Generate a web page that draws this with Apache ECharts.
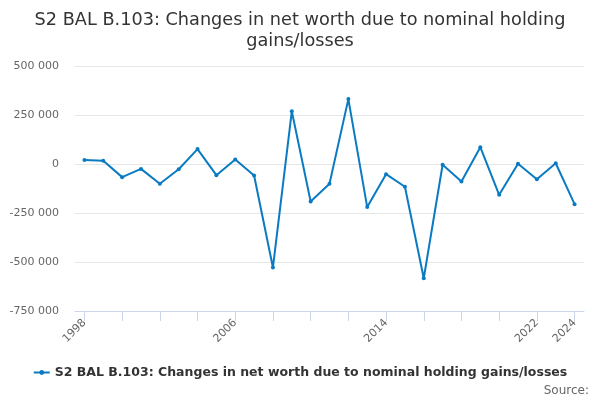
<!DOCTYPE html>
<html>
<head>
<meta charset="utf-8">
<script src="https://cdn.jsdelivr.net/npm/echarts@6/dist/echarts.min.js"></script>
<style>
  html, body { margin: 0; padding: 0; background: #fff; }
  #chart { width: 600px; height: 400px; }
</style>
</head>
<body>
<div id="chart"></div>
<script>
// years and values
var years = ['1998', '1999', '2000', '2001', '2002', '2003', '2004', '2005', '2006',
  '2007', '2008', '2009', '2010', '2011', '2012', '2013', '2014', '2015', '2016',
  '2017', '2018', '2019', '2020', '2021', '2022', '2023', '2024'];
var netWorth = [21000, 16000, -67000, -25000, -101000, -27000, 76000, -57000, 23000,
  -59000, -528000, 269000, -191000, -101000, 331000, -220000, -52000, -116000, -583000,
  -4000, -89000, 86000, -157000, 1000, -78000, 4000, -205000];
var seriesName = 'S2 BAL B.103: Changes in net worth due to nominal holding gains/losses';
var shownLabels = ['1998', '2006', '2014', '2022', '2024'];

var fmt = function(v) {
  return String(v).replace(/\B(?=(\d{3})+(?!\d))/g, ' ');
};

var myChart = echarts.init(document.getElementById('chart'));
var option = {
  textStyle: { fontFamily: 'DejaVu Sans' },
  title: {
    text: 'S2 BAL B.103: Changes in net worth due to nominal holding\ngains/losses',
    left: 'center',
    top: 5,
    textStyle: { fontSize: 17.7, fontWeight: 'normal', color: '#333', lineHeight: 21, fontFamily: 'DejaVu Sans' }
  },
  legend: {
    bottom: 16,
    left: 'center',
    itemWidth: 16,
    itemHeight: 6,
    itemGap: 5,
    data: [seriesName],
    textStyle: { fontSize: 12.5, fontWeight: 'bold', color: '#333' }
  },
  graphic: [{
    type: 'text',
    right: 11,
    bottom: 3,
    style: { text: 'Source:', fontSize: 12, fill: '#666', fontFamily: 'DejaVu Sans' }
  }],
  grid: { left: 75, right: 16, top: 66, bottom: 89 },
  xAxis: {
    type: 'category',
    data: years,
    boundaryGap: true,
    axisLine: { show: true, onZero: false, lineStyle: { color: '#ccd6eb' } },
    axisTick: { show: true, alignWithLabel: true, interval: 1, length: 10, lineStyle: { color: '#ccd6eb' } },
    axisLabel: {
      interval: function(i, v) { return shownLabels.indexOf(v) >= 0; },
      rotate: 45,
      color: '#666',
      fontSize: 11,
      margin: 10
    }
  },
  yAxis: {
    type: 'value',
    min: -750000,
    max: 500000,
    interval: 250000,
    axisLabel: { color: '#666', fontSize: 11, formatter: fmt, margin: 16 },
    splitLine: { lineStyle: { color: '#e6e6e6' } }
  },
  series: [{
    name: seriesName,
    type: 'line',
    data: netWorth,
    symbol: 'circle',
    symbolSize: 4,
    showAllSymbol: true,
    itemStyle: { color: '#0a7bc2' },
    lineStyle: { width: 2 }
  }]
};
myChart.setOption(option);
</script>
</body>
</html>
